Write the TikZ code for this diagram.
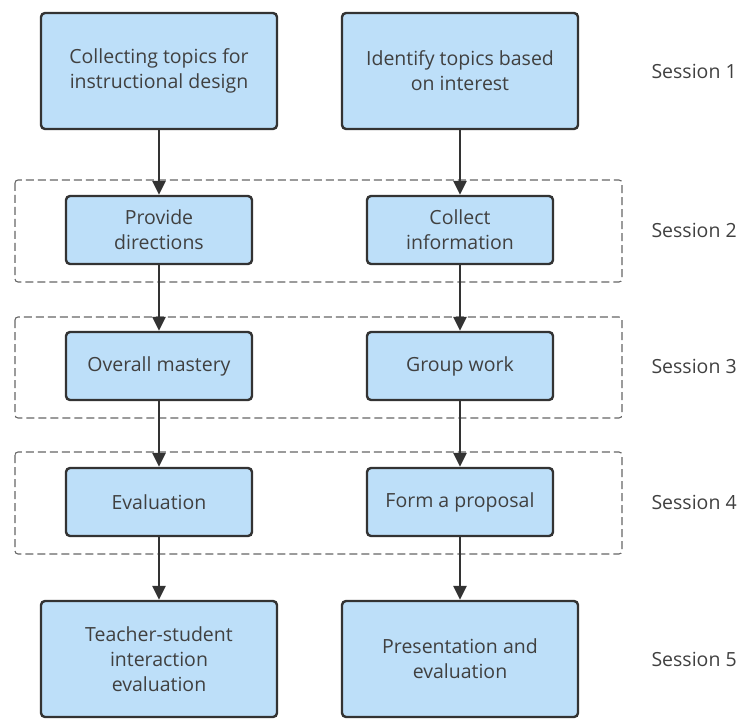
\documentclass[tikz,border=0pt]{standalone}
\usepackage{fontspec}
\setmainfont{Open Sans}
\usetikzlibrary{arrows.meta, positioning}
\definecolor{boxfill}{HTML}{BDDFF9}
\definecolor{boxline}{HTML}{333333}
\definecolor{txtcol}{HTML}{404040}
\definecolor{dashcol}{HTML}{666666}

\begin{document}
\begin{tikzpicture}[x=1pt, y=-1pt,
    bigbox/.style={rectangle, draw=boxline, fill=boxfill, line width=2.4pt, rounded corners=4pt, align=center, text=txtcol, minimum width=236pt, minimum height=116pt, font=\fontsize{19.5}{25}\selectfont},
    smallbox/.style={bigbox, minimum width=186pt, minimum height=68pt},
    session/.style={anchor=west, text=txtcol, font=\fontsize{19.5}{25}\selectfont},
    groupbox/.style={draw=dashcol, line width=1.1pt, dash pattern=on 8pt off 4pt, rounded corners=3pt},
    flow/.style={-{Triangle[length=14pt,width=13pt]}, draw=boxline, line width=2.6pt}]
    \useasboundingbox (0,0) rectangle (741,719);

    % session groups
    \draw [groupbox] (15,180) rectangle (622,282);
    \draw [groupbox] (15,317) rectangle (622,418);
    \draw [groupbox] (15,452) rectangle (622,554);

    % left column
    \node [bigbox] (collect) at (159,71) {Collecting topics for\\instructional design};
    \node [smallbox] (provide) at (159,230) {Provide\\directions};
    \node [smallbox] (mastery) at (159,366) {Overall mastery};
    \node [smallbox] (evaluation) at (159,502) {Evaluation};
    \node [bigbox] (interaction) at (159,659) {Teacher-student\\interaction\\evaluation};

    % right column
    \node [bigbox] (identify) at (460,71) {Identify topics based\\on interest};
    \node [smallbox] (information) at (460,230) {Collect\\information};
    \node [smallbox] (groupwork) at (460,366) {Group work};
    \node [smallbox] (proposal) at (460,502) {Form a proposal};
    \node [bigbox] (presentation) at (460,659) {Presentation and\\evaluation};

    % session labels
    \node [session] (s1) at (648,71) {Session 1};
    \node [session] (s2) at (648,230) {Session 2};
    \node [session] (s3) at (648,366) {Session 3};
    \node [session] (s4) at (648,502) {Session 4};
    \node [session] (s5) at (648,659) {Session 5};

    \draw [flow] (collect) -- (provide);
    \draw [flow] (provide) -- (mastery);
    \draw [flow] (mastery) -- (evaluation);
    \draw [flow] (evaluation) -- (interaction);
    \draw [flow] (identify) -- (information);
    \draw [flow] (information) -- (groupwork);
    \draw [flow] (groupwork) -- (proposal);
    \draw [flow] (proposal) -- (presentation);
\end{tikzpicture}
\end{document}
